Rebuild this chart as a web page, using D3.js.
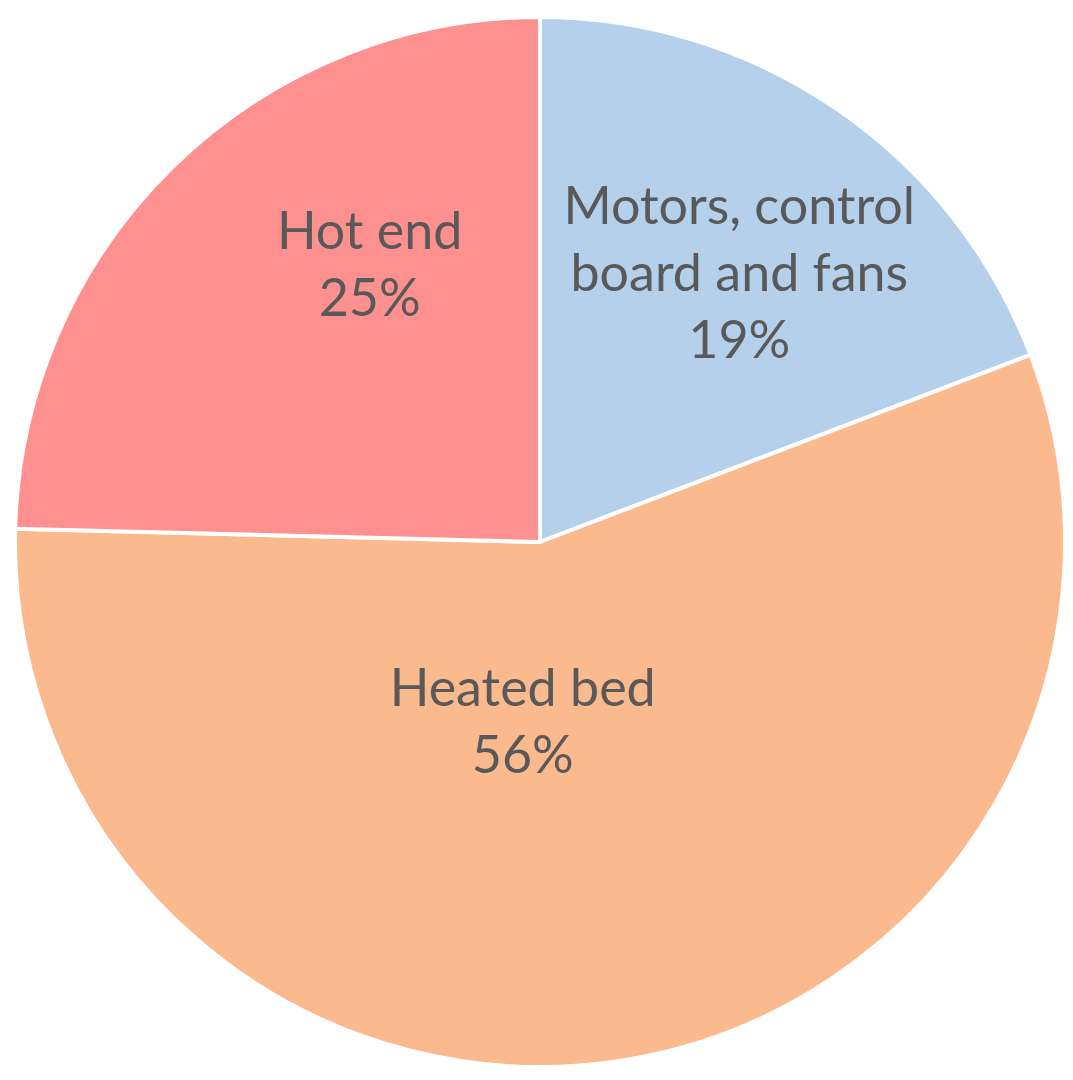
<!DOCTYPE html>
<html>
<head>
<meta charset="utf-8">
<script src="https://cdn.jsdelivr.net/npm/d3@7"></script>
<style>
  body { margin: 0; background: #fff; }
  svg text { font-family: Lato, "Open Sans", sans-serif; fill: #595959; }
</style>
</head>
<body>
<div id="chart"></div>
<script>
// slice data (clockwise from 12 o'clock)
const categories = ["Motors, control board and fans", "Heated bed", "Hot end"];
const shares = [19.2, 56.2, 24.6];
const labelLines = [["Motors, control", "board and fans"], ["Heated bed"], ["Hot end"]];
const colors = ["#b4d0eb", "#fbba8e", "#fe9090"];

const width = 1073, height = 1080;
const cx = 540, cy = 542, radius = 525;

// where each label sits: angle in degrees from top, distance from centre
const labelPos = [
	{ angle: 36.5, dist: 335 },
	{ angle: 185.5, dist: 180 },
	{ angle: 328.5, dist: 326 }
];

const data = categories.map((c, i) => ({ name: c, value: shares[i], lines: labelLines[i], color: colors[i], pos: labelPos[i] }));

const svg = d3.select('#chart').append('svg')
	.attr('width', width)
	.attr('height', height);

const g = svg.append('g')
	.attr('transform', `translate(${cx}, ${cy})`);

const pie = d3.pie()
	.value(d => d.value)
	.sort(null);

const arc = d3.arc()
	.innerRadius(0)
	.outerRadius(radius);

const arcs = pie(data);

g.selectAll('path')
	.data(arcs)
	.join('path')
	.attr('d', arc)
	.attr('fill', d => d.data.color)
	.attr('stroke', '#fff')
	.attr('stroke-width', 4)
	.attr('stroke-linejoin', 'round');

// labels
const fontSize = 52, lineH = 67;
const labels = g.selectAll('text.lbl')
	.data(arcs)
	.join('text')
	.attr('class', 'lbl')
	.attr('text-anchor', 'middle')
	.style('font-size', fontSize + 'px')
	.attr('transform', d => {
		const a = d.data.pos.angle * Math.PI / 180;
		return `translate(${Math.sin(a) * d.data.pos.dist}, ${-Math.cos(a) * d.data.pos.dist})`;
	});

labels.each(function(d) {
	const lines = d.data.lines.concat([Math.round(d.data.value) + '%']);
	const n = lines.length;
	d3.select(this).selectAll('tspan')
		.data(lines)
		.join('tspan')
		.attr('x', 0)
		.attr('y', (l, i) => (i - (n - 1) / 2) * lineH)
		.attr('dy', '0.35em')
		.text(l => l);
});
</script>
</body>
</html>
